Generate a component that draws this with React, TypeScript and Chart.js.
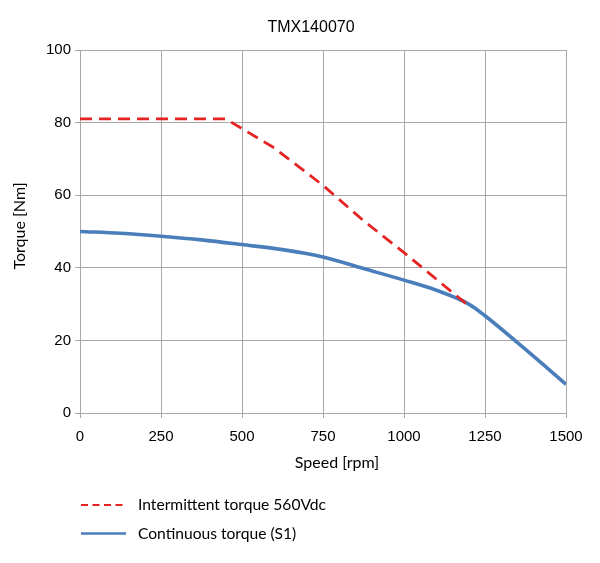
import React, { useEffect, useRef } from "react";
import { Chart, registerables } from "chart.js";

Chart.register(...registerables);

const CHART_TITLE = "TMX140070";
const X_TITLE = "Speed [rpm]";
const Y_TITLE = "Torque [Nm]";

const INTERMITTENT_LABEL = "Intermittent torque 560Vdc";
const intermittentSpeed = [0, 450, 600, 750, 875, 1000, 1200];
const intermittentTorque = [81, 81, 73, 62.7, 53, 44.2, 29.5];

const CONTINUOUS_LABEL = "Continuous torque (S1)";
const continuousSpeed = [0, 125, 250, 375, 500, 625, 750, 875, 1000, 1100, 1200, 1250, 1375, 1500];
const continuousTorque = [50, 49.5, 48.7, 47.7, 46.4, 45, 43, 39.8, 36.6, 33.8, 30, 26.8, 17.5, 7.9];

const X_MIN = 0;
const X_MAX = 1500;
const X_STEP = 250;
const Y_MIN = 0;
const Y_MAX = 100;
const Y_STEP = 20;

const RED = "#e62323";
const BLUE = "#4a7ebb";
const GRID = "#a8a8a8";
const TICK_FONT = "'Liberation Sans', Arial, sans-serif";
const LABEL_FONT = "Lato, 'Open Sans', sans-serif";

const textPlugin = {
  id: "textPlugin",
  afterDraw(chart: any) {
    const ctx = chart.ctx;
    const area = chart.chartArea;
    ctx.save();
    ctx.fillStyle = "#000";
    // chart title
    ctx.font = `16px ${TICK_FONT}`;
    ctx.textAlign = "center";
    ctx.textBaseline = "middle";
    ctx.fillText(CHART_TITLE, 311, 28);
    // x axis title
    ctx.font = `16px ${LABEL_FONT}`;
    ctx.fillText(X_TITLE, 337, 463);
    // y axis title
    ctx.save();
    ctx.translate(20, 226);
    ctx.rotate(-Math.PI / 2);
    ctx.fillText(Y_TITLE, 0, 0);
    ctx.restore();
    // legend
    ctx.font = `15.6px ${LABEL_FONT}`;
    const items = chart.data.datasets;
    ctx.textAlign = "left";
    items.forEach((ds: any, i: number) => {
      const y = 505 + i * 28.5;
      ctx.save();
      ctx.strokeStyle = ds.borderColor;
      ctx.lineWidth = ds.borderDash && ds.borderDash.length ? 2 : 2.5;
      ctx.setLineDash(ds.borderDash && ds.borderDash.length ? [7, 4.5] : []);
      ctx.beginPath();
      ctx.moveTo(area.left + 1, y);
      ctx.lineTo(area.left + 46, y);
      ctx.stroke();
      ctx.restore();
      ctx.fillText(ds.label, 138, y);
    });
    ctx.restore();
  },
};

export default function App() {
  const canvasRef = useRef<HTMLCanvasElement | null>(null);

  useEffect(() => {
    if (!canvasRef.current) return;
    const chart = new Chart(canvasRef.current, {
      type: "line",
      data: {
        datasets: [
          {
            label: INTERMITTENT_LABEL,
            data: intermittentSpeed.map((x, i) => ({ x, y: intermittentTorque[i] })),
            borderColor: RED,
            borderWidth: 2.8,
            borderDash: [12, 7],
            pointRadius: 0,
            tension: 0,
            fill: false,
          },
          {
            label: CONTINUOUS_LABEL,
            data: continuousSpeed.map((x, i) => ({ x, y: continuousTorque[i] })),
            borderColor: BLUE,
            borderWidth: 3.6,
            pointRadius: 0,
            cubicInterpolationMode: "monotone",
            fill: false,
          },
        ],
      },
      options: {
        responsive: false,
        animation: false,
        layout: { padding: { left: 0, right: 34, top: 50, bottom: 110 } },
        plugins: {
          legend: { display: false },
          title: { display: false },
          tooltip: { enabled: false },
        },
        scales: {
          x: {
            type: "linear",
            min: X_MIN,
            max: X_MAX,
            afterFit: (s: any) => {
              s.height = 40;
            },
            ticks: {
              stepSize: X_STEP,
              color: "#000",
              font: { family: TICK_FONT, size: 15 },
              padding: 10,
              maxRotation: 0,
              callback: (v: any) => String(v),
            },
            grid: { color: GRID, lineWidth: 1, tickLength: 5, drawTicks: true },
            border: { color: GRID, width: 1 },
          },
          y: {
            type: "linear",
            min: Y_MIN,
            max: Y_MAX,
            afterFit: (s: any) => {
              s.width = 80;
            },
            ticks: {
              stepSize: Y_STEP,
              color: "#000",
              font: { family: TICK_FONT, size: 15 },
              padding: 4,
              callback: (v: any) => String(v),
            },
            grid: { color: GRID, lineWidth: 1, tickLength: 5, drawTicks: true },
            border: { color: GRID, width: 1 },
          },
        },
      },
      plugins: [textPlugin],
    } as any);
    return () => chart.destroy();
  }, []);

  return (
    <div style={{ position: "absolute", left: 0, top: 0, width: 600, height: 563, background: "#fff" }}>
      <canvas ref={canvasRef} width={600} height={563} style={{ width: 600, height: 563 }} />
    </div>
  );
}
